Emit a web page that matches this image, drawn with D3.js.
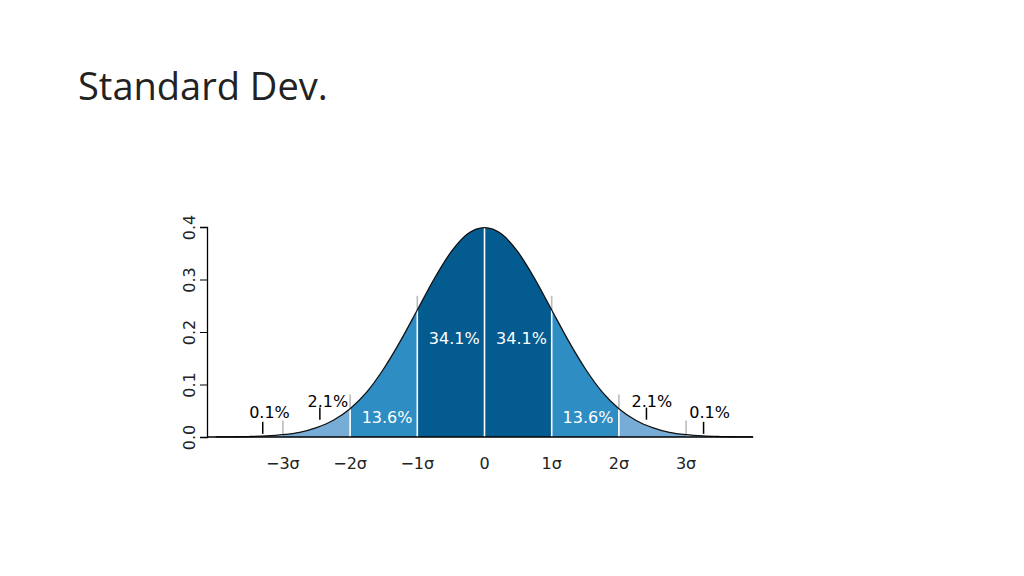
<!DOCTYPE html>
<html><head><meta charset="utf-8">
<script src="https://cdn.jsdelivr.net/npm/d3@7"></script>
<style>body{margin:0;background:#fff}</style></head>
<body><svg id="c" width="1024" height="576"></svg>
<script>
// density, step 0.25 sigma
const zs = d3.range(-4, 4.001, 0.25);
const dens = [0.0001,0.0004,0.0009,0.002,0.0044,0.009,0.018,0.032,0.054,0.086,0.130,0.183,0.242,0.301,0.352,0.387,0.399,
              0.387,0.352,0.301,0.242,0.183,0.130,0.086,0.054,0.032,0.018,0.009,0.0044,0.002,0.0009,0.0004,0.0001];
const xTicks = [-3,-2,-1,0,1,2,3];
const xTickLabels = ["\u22123\u03c3","\u22122\u03c3","\u22121\u03c3","0","1\u03c3","2\u03c3","3\u03c3"];
const yTicks = [0,0.1,0.2,0.3,0.4];
const bands = [[-4.2,-3,"#b4d3ea"],[-3,-2,"#76acd6"],[-2,-1,"#2e8dc3"],[-1,1,"#035b8f"],[1,2,"#2e8dc3"],[2,3,"#76acd6"],[3,4.2,"#b4d3ea"]];
const pctLabels = [
  {z:-0.45,y:0.177,t:"34.1%",c:"#fff"},{z:0.55,y:0.177,t:"34.1%",c:"#fff"},
  {z:-1.45,y:0.027,t:"13.6%",c:"#fff"},{z:1.54,y:0.027,t:"13.6%",c:"#fff"},
  {z:-2.33,y:0.057,t:"2.1%",c:"#000"},{z:2.49,y:0.057,t:"2.1%",c:"#000"},
  {z:-3.2,y:0.036,t:"0.1%",c:"#000"},{z:3.35,y:0.036,t:"0.1%",c:"#000"}];
const pointers = [{z:-3.3,y0:0.006,y1:0.029},{z:-2.45,y0:0.033,y1:0.056},{z:2.41,y0:0.033,y1:0.056},{z:3.26,y0:0.006,y1:0.029}];

const pts = zs.map((z,i)=>({z, d:dens[i]}));
const svg = d3.select("#c");
const x = d3.scaleLinear().domain([-4,4]).range([215.7,753.3]);
const y = d3.scaleLinear().domain([0,0.4]).range([437,227]);
const font = "'DejaVu Sans', sans-serif";

svg.append("text").attr("x",78).attr("y",100).attr("font-family","'Open Sans'").attr("font-weight",400)
  .attr("font-size",38).attr("fill","#222").text("Standard Dev.");

const area = d3.area().x(d=>x(d.z)).y0(y(0)).y1(d=>y(d.d)).curve(d3.curveMonotoneX);
const line = d3.line().x(d=>x(d.z)).y(d=>y(d.d)).curve(d3.curveMonotoneX);
const defs = svg.append("defs");
bands.forEach((b,i)=>{
  defs.append("clipPath").attr("id","b"+i).append("rect")
    .attr("x",x(b[0])).attr("width",x(b[1])-x(b[0])).attr("y",0).attr("height",576);
  svg.append("path").datum(pts).attr("d",area).attr("fill",b[2]).attr("clip-path",`url(#b${i})`);
});
// white separators and grey ticks above
const dAt = z => dens[zs.findIndex(v=>Math.abs(v-z)<1e-6)];
[-2,-1,0,1,2].forEach(z=>{
  svg.append("line").attr("x1",x(z)).attr("x2",x(z)).attr("y1",y(0)).attr("y2",y(dAt(z)))
    .attr("stroke","#fff").attr("stroke-width",1.6);
});
[-3,-2,-1,1,2,3].forEach(z=>{
  svg.append("line").attr("x1",x(z)).attr("x2",x(z)).attr("y1",y(dAt(z))).attr("y2",y(dAt(z)+0.027))
    .attr("stroke","#bbb").attr("stroke-width",1.6);
});
svg.append("path").datum(pts).attr("d",line).attr("fill","none").attr("stroke","#111").attr("stroke-width",1.3);

// axes
svg.append("line").attr("x1",207).attr("x2",753).attr("y1",y(0)).attr("y2",y(0)).attr("stroke","#000").attr("stroke-width",1.3);
svg.append("g").attr("transform",`translate(207,0)`)
  .call(d3.axisLeft(y).tickValues(yTicks).tickFormat(d3.format(".1f")).tickSize(7))
  .call(g=>{g.select(".domain").attr("stroke-width",1.3);
    g.selectAll("text").attr("font-family",font).attr("font-size",16).attr("fill","#222")
     .attr("transform","rotate(-90)").attr("x",0).attr("y",-12).attr("dy","0")
     .attr("text-anchor","middle");});
svg.append("g").selectAll("text").data(xTicks).join("text")
  .attr("x",d=>x(d)).attr("y",469).attr("text-anchor","middle")
  .attr("font-family",font).attr("font-size",16).attr("fill","#222")
  .text((d,i)=>xTickLabels[i]);

svg.append("g").selectAll("text").data(pctLabels).join("text")
  .attr("x",d=>x(d.z)).attr("y",d=>y(d.y)).attr("text-anchor","middle")
  .attr("font-family",font).attr("font-size",16).attr("fill",d=>d.c).text(d=>d.t);
svg.append("g").selectAll("line").data(pointers).join("line")
  .attr("x1",d=>x(d.z)).attr("x2",d=>x(d.z)).attr("y1",d=>y(d.y0)).attr("y2",d=>y(d.y1))
  .attr("stroke","#000").attr("stroke-width",1.5);
</script></body></html>
